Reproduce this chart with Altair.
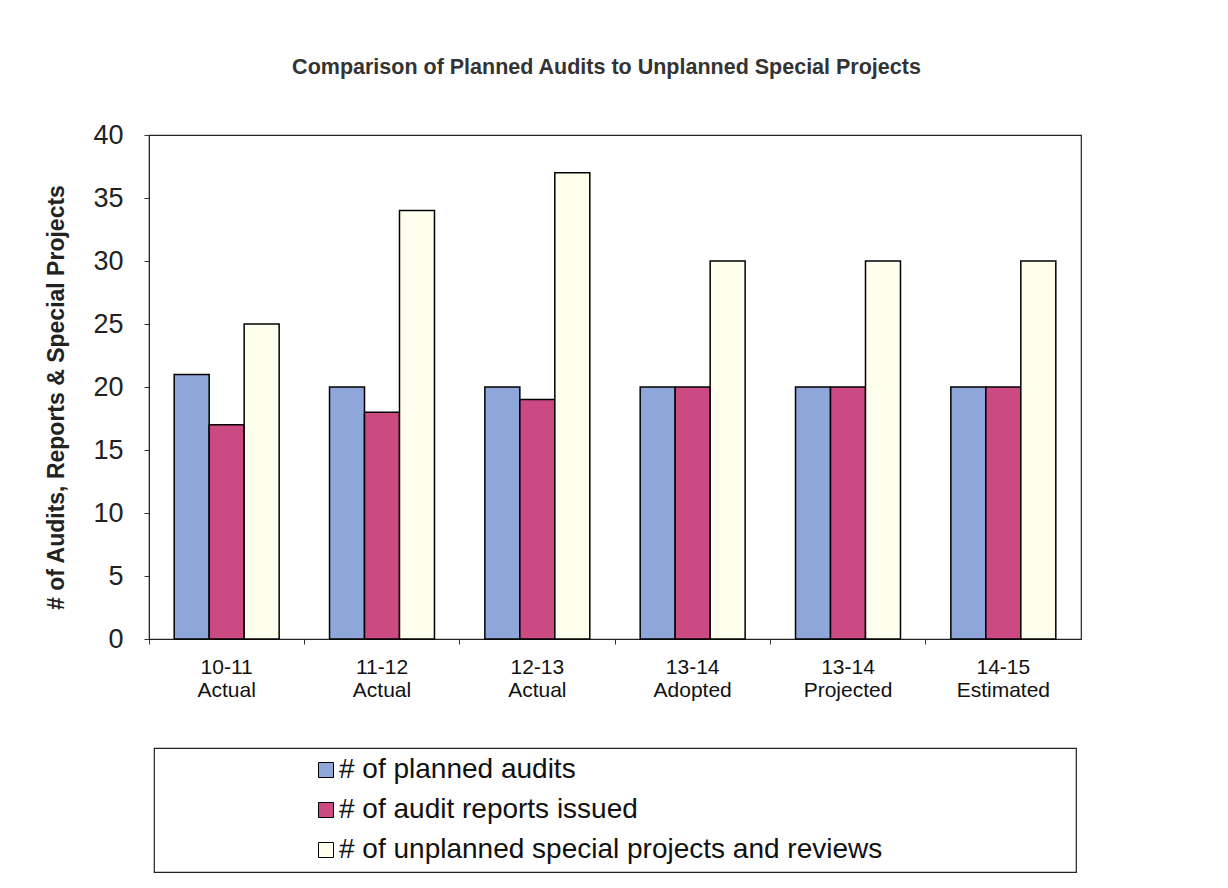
import altair as alt
import pandas as pd

categories = ["10-11\nActual", "11-12\nActual", "12-13\nActual",
              "13-14\nAdopted", "13-14\nProjected", "14-15\nEstimated"]
series = ["# of planned audits", "# of audit reports issued",
          "# of unplanned special projects and reviews"]
planned = [21, 20, 20, 20, 20, 20]
reports = [17, 18, 19, 20, 20, 20]
unplanned = [25, 34, 37, 30, 30, 30]
colors = ["#8EA6DA", "#CC4A82", "#FFFFEE"]
y_ticks = [0, 5, 10, 15, 20, 25, 30, 35, 40]

rows = []
for i, c in enumerate(categories):
    for s, vals in zip(series, [planned, reports, unplanned]):
        rows.append({"period": c, "series": s, "value": vals[i]})
df = pd.DataFrame(rows)
leg_df = pd.DataFrame({"series": series})

FONT = "Liberation Sans"
color_scale = alt.Scale(domain=series, range=colors)
frame = alt.ViewBackground(stroke="#222222", strokeWidth=1.2)

bars = alt.Chart(df).mark_bar(stroke="black", strokeWidth=1.5).encode(
    x=alt.X("period:N", sort=categories, title=None,
            scale=alt.Scale(paddingInner=0, paddingOuter=0),
            axis=alt.Axis(labelExpr="split(datum.label, '\\n')", labelAngle=0,
                          labelFontSize=21, labelLineHeight=23, labelColor="#111",
                          labelPadding=12, bandPosition=0, tickSize=5,
                          tickColor="#333", domainColor="#222", labelFont=FONT)),
    xOffset=alt.XOffset("series:N", sort=series,
                        scale=alt.Scale(paddingInner=0, paddingOuter=0.72)),
    y=alt.Y("value:Q", scale=alt.Scale(domain=[0, 40]),
            title="# of Audits, Reports & Special Projects",
            axis=alt.Axis(values=y_ticks, grid=False, tickSize=5, tickColor="#333",
                          domainColor="#222", labelFontSize=27, labelColor="#222",
                          labelFont=FONT, labelPadding=21, titleFont=FONT,
                          titleFontSize=23, titleFontWeight="bold",
                          titleColor="#222", titlePadding=24, titleY=262)),
    fill=alt.Fill("series:N", scale=color_scale, legend=None),
).properties(width=932, height=504, view=frame)

leg_y = alt.Y("series:N", sort=series, scale=alt.Scale(type="point", padding=0.55),
              axis=None)
leg_sym = alt.Chart(leg_df).mark_point(shape="square", filled=True, size=225,
                                        stroke="black", strokeWidth=1, opacity=1).encode(
    x=alt.value(172),
    y=leg_y,
    fill=alt.Fill("series:N", scale=color_scale, legend=None),
)
leg_txt = alt.Chart(leg_df).mark_text(align="left", baseline="middle", fontSize=28,
                                      font=FONT, color="#111").encode(
    x=alt.value(185),
    y=leg_y,
    text="series:N",
)
legend_panel = (leg_sym + leg_txt).properties(width=922, height=124, view=frame)

chart = alt.vconcat(bars, legend_panel, spacing=109, bounds="flush", center=True).properties(
    title=alt.TitleParams("Comparison of Planned Audits to Unplanned Special Projects",
                          fontSize=21.5, fontWeight="bold", font=FONT, color="#333",
                          anchor="middle", offset=42, dx=43),
    padding={"left": 37, "top": 48, "right": 10, "bottom": 5},
).configure(background="white")

chart.save("out.html", embed_options={"renderer": "svg", "actions": False})
